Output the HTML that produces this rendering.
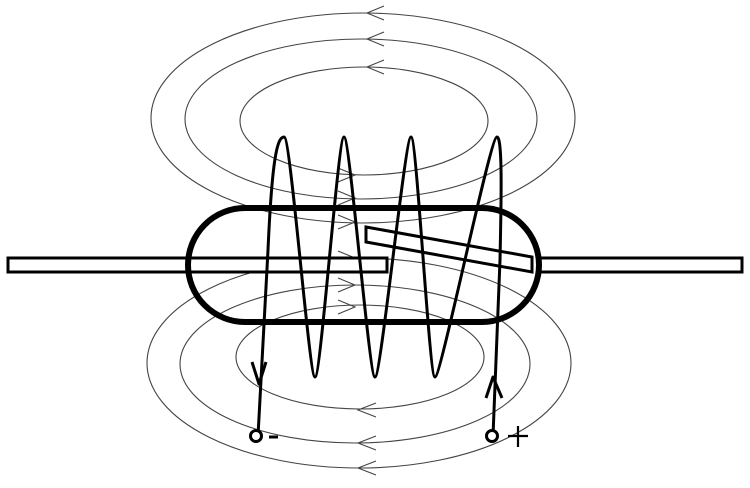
<!DOCTYPE html>
<html><head><meta charset="utf-8"><style>html,body{margin:0;padding:0;background:#fff}svg{display:block}</style></head>
<body>
<svg width="750" height="488" viewBox="0 0 750 488" xmlns="http://www.w3.org/2000/svg">
<g fill="none" stroke="#444" stroke-width="1.1">
<ellipse cx="363" cy="118" rx="212" ry="105"/>
<ellipse cx="361" cy="119" rx="176" ry="80"/>
<ellipse cx="364" cy="121" rx="124" ry="54"/>
<ellipse cx="359" cy="363" rx="212" ry="105"/>
<ellipse cx="355" cy="364" rx="175" ry="79"/>
<ellipse cx="360" cy="357" rx="124" ry="52"/>
<!-- top arrows (left) -->
<path d="M384,6 L367,13 L384,20"/>
<path d="M384,32 L367,39 L384,46"/>
<path d="M384,60 L367,67 L384,74"/>
<!-- bottom arrows (left) -->
<path d="M376,403 L358,410 L376,417"/>
<path d="M376,436 L358,443 L376,450"/>
<path d="M376,461 L358,468 L376,475"/>
<!-- inner arrows (right) -->
<path d="M338,168 L355,175 L338,182"/>
<path d="M338,191 L355,198 L338,205"/>
<path d="M338,215 L355,222 L338,229"/>
<path d="M338,251 L355,258 L338,265"/>
<path d="M338,278 L355,285 L338,292"/>
<path d="M338,300 L355,307 L338,314"/>
</g>
<g fill="#fff" stroke="#000" stroke-width="3">
<rect x="8" y="258" width="379" height="14"/>
<rect x="540" y="258" width="202" height="14"/>
<polygon points="366,227 532,257 532,272 366,242"/>
</g>
<rect x="188" y="208" width="351" height="114" rx="57" ry="57" fill="none" stroke="#000" stroke-width="6"/>
<g fill="none" stroke="#000" stroke-width="3" stroke-linejoin="round">
<path d="M258,436 L268,250 C272,160 277,137 284,137
C291,137 309,377 315,377
C321,377 338,137 344,137
C350,137 369,377 375,377
C381,377 405,137 411,137
C417,137 429,377 435,377
C441,377 490,137 497,137
C503,137 501,210 500,260 L493,436"/>
<path d="M252,362 L259,384 L266,362"/>
<path d="M486,398 L493,377 L502,398"/>
<circle cx="256" cy="436" r="5.5" fill="#fff"/>
<circle cx="492" cy="436" r="5.5" fill="#fff"/>
<path d="M269,437 L278,437"/>
<path d="M508,436 L528,436 M518,426 L518,447" stroke-width="2.2"/>
</g>
</svg>
</body></html>
